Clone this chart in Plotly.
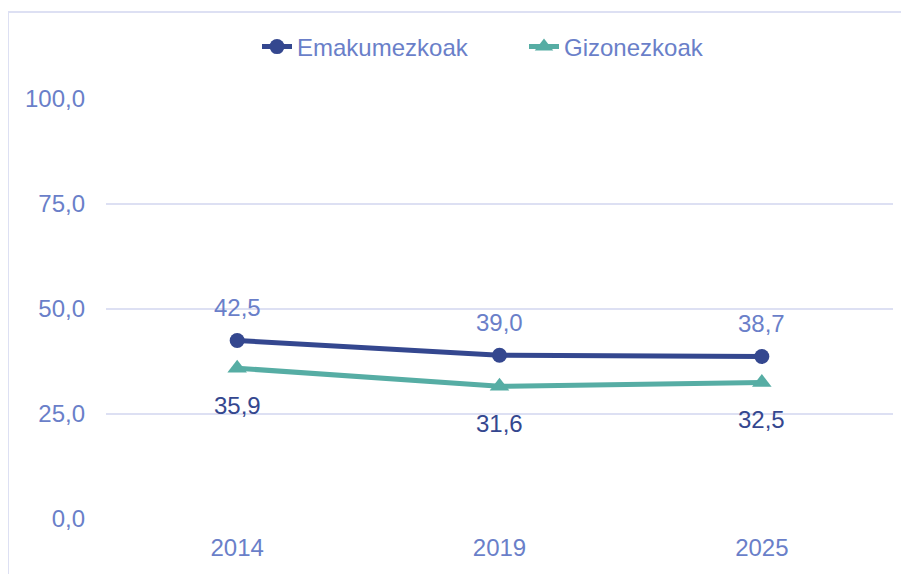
import plotly.graph_objects as go

years = ["2014", "2019", "2025"]
emakumezkoak = [42.5, 39.0, 38.7]
gizonezkoak = [35.9, 31.6, 32.5]
y_ticks = [0, 25, 50, 75, 100]
series_names = ["Emakumezkoak", "Gizonezkoak"]

C_WOMEN = "#34478F"
C_MEN = "#56ADA4"
C_TEXT = "#6A7FC9"
C_GRID = "#DDE0F3"
FONT = "Arial, Liberation Sans, sans-serif"
FS = 24

def fmt(v):
    return f"{v:.1f}".replace(".", ",")

fig = go.Figure()
fig.add_trace(go.Scatter(
    x=years, y=emakumezkoak, name=series_names[0], mode="lines+markers",
    line=dict(color=C_WOMEN, width=5), marker=dict(symbol="circle", size=15, color=C_WOMEN),
))
fig.add_trace(go.Scatter(
    x=years, y=gizonezkoak, name=series_names[1], mode="lines+markers",
    line=dict(color=C_MEN, width=5), marker=dict(symbol="triangle-up", size=17, color=C_MEN),
))

annotations = []
for i, v in enumerate(emakumezkoak):
    annotations.append(dict(x=i, y=v, xref="x", yref="y", text=fmt(v), showarrow=False,
                            yshift=33, font=dict(family=FONT, size=FS, color=C_TEXT)))
for i, v in enumerate(gizonezkoak):
    annotations.append(dict(x=i, y=v, xref="x", yref="y", text=fmt(v), showarrow=False,
                            yshift=-37, font=dict(family=FONT, size=FS, color=C_WOMEN)))

# figure is drawn with an 8px page offset; plot area in figure px: x 98..885, y 91..511
W, H = 901, 566
L, T = 98, 91
R, B = W - 885, H - 511
pw, ph = W - L - R, H - T - B
def px_x(p):
    return (p - L) / pw
def px_y(p):
    return (H - B - p) / ph

shapes = [
    dict(type="line", xref="paper", yref="paper", x0=px_x(0), x1=px_x(0),
         y0=px_y(3), y1=px_y(600), line=dict(color=C_GRID, width=2)),
    dict(type="line", xref="paper", yref="paper", x0=px_x(0), x1=px_x(920),
         y0=px_y(4), y1=px_y(4), line=dict(color=C_GRID, width=2)),
]

fig.update_layout(
    width=W, height=H,
    margin=dict(l=L, r=R, t=T, b=B),
    paper_bgcolor="white", plot_bgcolor="white",
    font=dict(family=FONT, size=FS, color=C_TEXT),
    showlegend=True,
    legend=dict(orientation="h", x=px_x(249), xanchor="left", y=px_y(39), yanchor="middle",
                entrywidth=222, entrywidthmode="pixels",
                font=dict(family=FONT, size=FS, color=C_TEXT), bgcolor="rgba(0,0,0,0)"),
    annotations=annotations,
    shapes=shapes,
    separators=",.",
)
fig.update_xaxes(type="category", range=[-0.5, 2.5], showgrid=False, zeroline=False,
                 showline=False, ticks="", ticklabelstandoff=12,
                 tickfont=dict(family=FONT, size=FS, color=C_TEXT))
fig.update_yaxes(range=[0, 100], tickvals=y_ticks, tickformat=".1f", showgrid=True,
                 gridcolor=C_GRID, gridwidth=2, zeroline=False, showline=False, ticks="",
                 ticklabelstandoff=20, tickfont=dict(family=FONT, size=FS, color=C_TEXT))

fig.write_html("out.html")
